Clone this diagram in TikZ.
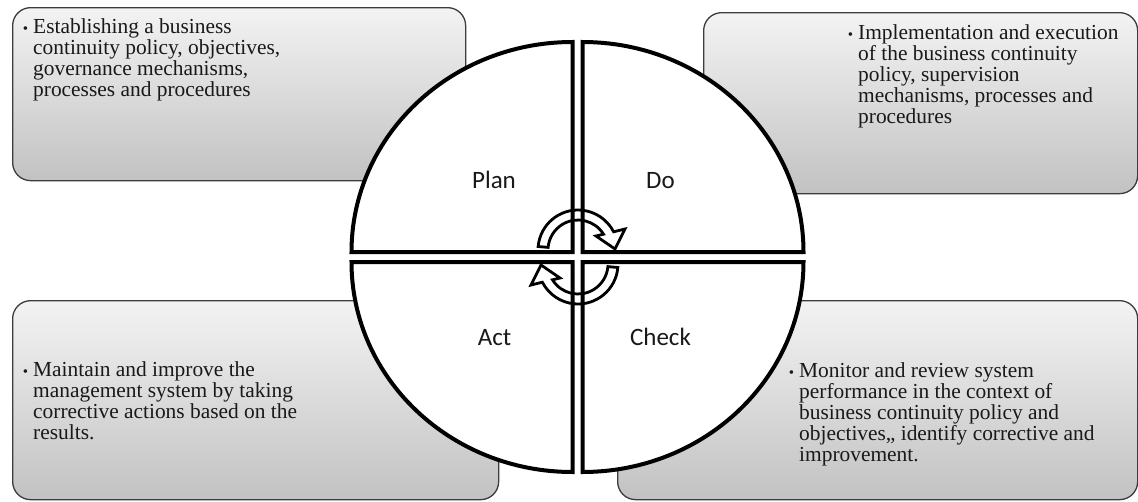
\documentclass[tikz,border=0pt]{standalone}
\usepackage{fontspec}
\setmainfont{Liberation Serif}
\newfontfamily\lblfont{Carlito}
\usetikzlibrary{calc}
\definecolor{boxtop}{RGB}{243,243,243}
\definecolor{boxbot}{RGB}{194,194,194}
\definecolor{boxline}{RGB}{60,60,60}
\newcommand\pdcabul{\llap{{\fontsize{15}{15}\selectfont •}\hspace{5pt}}}
\newcommand\pdcastrut{\rule{0pt}{15pt}}
\begin{document}
\begin{tikzpicture}[x=1pt,y=-1pt,
  pbox/.style={draw=boxline, line width=1.3pt, rounded corners=18pt,
    top color=boxtop, bottom color=boxbot, anchor=north west, inner sep=0pt},
  btext/.style={anchor=north west, inner sep=0pt, align=left,
    font=\fontsize{21.4}{21}\selectfont, text=black!90},
  quarter/.style={draw=black, line width=4pt, fill=white},
  cyc/.style={draw=black, line width=2.8pt, line join=miter},
  lbl/.style={anchor=base, font=\lblfont\fontsize{25}{25}\selectfont, text=black!90}]
\useasboundingbox (0,0) rectangle (1138,501);
\fill[white] (0,0) rectangle (1138,501);
% boxes
\node[pbox, minimum width=453pt, minimum height=173pt] (b1) at (12,7) {};
\node[pbox, minimum width=434pt, minimum height=181pt] (b2) at (703,12) {};
\node[pbox, minimum width=486pt, minimum height=199pt] (b3) at (12,300) {};
\node[pbox, minimum width=520pt, minimum height=199pt] (b4) at (617,300) {};
% box texts
\node[btext] (t1) at (33,18) {\pdcastrut\pdcabul Establishing a business\\
continuity policy, objectives,\\ governance mechanisms,\\ processes and procedures};
\node[btext] (t2) at (858,24) {\pdcastrut\pdcabul Implementation and execution\\
of the business continuity\\ policy, supervision\\ mechanisms, processes and\\ procedures};
\node[btext] (t3) at (33,361) {\pdcastrut\pdcabul Maintain and improve the\\
management system by taking\\ corrective actions based on the\\ results.};
\node[btext] (t4) at (799,362) {\pdcastrut\pdcabul Monitor and review system\\
performance in the context of\\ business continuity policy and\\ objectives,, identify corrective and\\ improvement.};
% quarters
\draw[quarter] (572.5,252) -- ++(-221,0) arc[start angle=180, end angle=270, x radius=221, y radius=210] -- cycle;
\draw[quarter] (582.5,252) -- ++(0,-210) arc[start angle=270, end angle=360, x radius=221, y radius=210] -- cycle;
\draw[quarter] (582.5,262) -- ++(221,0) arc[start angle=0, end angle=90, x radius=221, y radius=210] -- cycle;
\draw[quarter] (572.5,262) -- ++(0,210) arc[start angle=90, end angle=180, x radius=221, y radius=210] -- cycle;
% labels
\node[lbl] (plan) at (494,188) {Plan};
\node[lbl] (do) at (660.5,188) {Do};
\node[lbl] (act) at (494.5,345) {Act};
\node[lbl] (check) at (660.5,345) {Check};
% cycle arrows
\coordinate (c1) at (578,250);
\coordinate (c2) at (578,264);
\draw[cyc] ($(c1)+(-175:40)$) arc[start angle=-175, end angle=-27.1, radius=40]
  -- (625,229) -- (615,249) -- (596,236) -- ($(c1)+(-31.8:30)$)
  arc[start angle=-31.8, end angle=-175, radius=30] -- cycle;
\draw[cyc] ($(c2)+(5:40)$) arc[start angle=5, end angle=152.9, radius=40]
  -- (531,285) -- (541,265) -- (560,278) -- ($(c2)+(148.2:30)$)
  arc[start angle=148.2, end angle=5, radius=30] -- cycle;
\end{tikzpicture}
\end{document}
